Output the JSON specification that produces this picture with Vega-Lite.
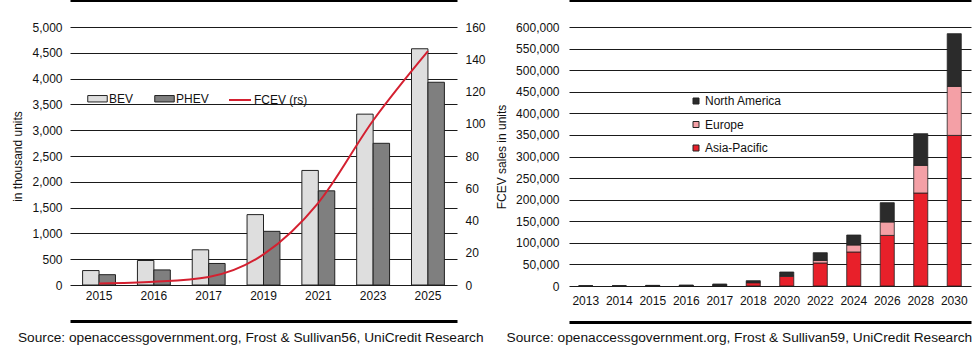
{
  "$schema": "https://vega.github.io/schema/vega-lite/v6.json",
  "background": "white",
  "padding": {"left": 11, "top": 0, "right": 7, "bottom": 0},
  "autosize": {"type": "pad"},
  "spacing": 9,
  "resolve": {"scale": {"fill": "independent"}, "legend": {"fill": "independent"}},
  "config": {
    "font": "Liberation Sans",
    "view": {"stroke": null},
    "axis": {"labelFont": "Liberation Sans", "labelFontSize": 12, "labelColor": "#111", "titleFont": "Liberation Sans", "titleFontSize": 12, "titleFontWeight": "normal", "titleColor": "#111", "gridColor": "#1a1a1a", "gridWidth": 1, "gridOpacity": 1, "labelOverlap": false},
    "legend": {"labelFont": "Liberation Sans", "labelFontSize": 12, "labelColor": "#111", "padding": 0},
    "title": {"font": "Liberation Sans", "fontSize": 13.7, "fontWeight": "normal", "color": "#111"}
  },
  "datasets": {
    "ev": [
      {"year": "2015", "series": "BEV", "value": 280},
      {"year": "2016", "series": "BEV", "value": 475},
      {"year": "2017", "series": "BEV", "value": 682},
      {"year": "2019", "series": "BEV", "value": 1364},
      {"year": "2021", "series": "BEV", "value": 2220},
      {"year": "2023", "series": "BEV", "value": 3311},
      {"year": "2025", "series": "BEV", "value": 4578},
      {"year": "2015", "series": "PHEV", "value": 200},
      {"year": "2016", "series": "PHEV", "value": 292},
      {"year": "2017", "series": "PHEV", "value": 417},
      {"year": "2019", "series": "PHEV", "value": 1040},
      {"year": "2021", "series": "PHEV", "value": 1825},
      {"year": "2023", "series": "PHEV", "value": 2746},
      {"year": "2025", "series": "PHEV", "value": 3929},
      {"year": "2015", "series": "FCEV (rs)", "value": 1},
      {"year": "2016", "series": "FCEV (rs)", "value": 2},
      {"year": "2017", "series": "FCEV (rs)", "value": 5},
      {"year": "2019", "series": "FCEV (rs)", "value": 19},
      {"year": "2021", "series": "FCEV (rs)", "value": 51},
      {"year": "2023", "series": "FCEV (rs)", "value": 102},
      {"year": "2025", "series": "FCEV (rs)", "value": 145}
    ],
    "fcev": [
      {"year": "2013", "region": "Asia-Pacific", "ord": 1, "value": 0},
      {"year": "2013", "region": "Europe", "ord": 2, "value": 0},
      {"year": "2013", "region": "North America", "ord": 3, "value": 0},
      {"year": "2014", "region": "Asia-Pacific", "ord": 1, "value": 0},
      {"year": "2014", "region": "Europe", "ord": 2, "value": 0},
      {"year": "2014", "region": "North America", "ord": 3, "value": 0},
      {"year": "2015", "region": "Asia-Pacific", "ord": 1, "value": 600},
      {"year": "2015", "region": "Europe", "ord": 2, "value": 200},
      {"year": "2015", "region": "North America", "ord": 3, "value": 700},
      {"year": "2016", "region": "Asia-Pacific", "ord": 1, "value": 900},
      {"year": "2016", "region": "Europe", "ord": 2, "value": 300},
      {"year": "2016", "region": "North America", "ord": 3, "value": 1000},
      {"year": "2017", "region": "Asia-Pacific", "ord": 1, "value": 1200},
      {"year": "2017", "region": "Europe", "ord": 2, "value": 400},
      {"year": "2017", "region": "North America", "ord": 3, "value": 3000},
      {"year": "2018", "region": "Asia-Pacific", "ord": 1, "value": 7600},
      {"year": "2018", "region": "Europe", "ord": 2, "value": 1000},
      {"year": "2018", "region": "North America", "ord": 3, "value": 3700},
      {"year": "2020", "region": "Asia-Pacific", "ord": 1, "value": 22000},
      {"year": "2020", "region": "Europe", "ord": 2, "value": 2000},
      {"year": "2020", "region": "North America", "ord": 3, "value": 8400},
      {"year": "2022", "region": "Asia-Pacific", "ord": 1, "value": 53300},
      {"year": "2022", "region": "Europe", "ord": 2, "value": 6000},
      {"year": "2022", "region": "North America", "ord": 3, "value": 17800},
      {"year": "2024", "region": "Asia-Pacific", "ord": 1, "value": 78800},
      {"year": "2024", "region": "Europe", "ord": 2, "value": 16200},
      {"year": "2024", "region": "North America", "ord": 3, "value": 23100},
      {"year": "2026", "region": "Asia-Pacific", "ord": 1, "value": 117200},
      {"year": "2026", "region": "Europe", "ord": 2, "value": 31100},
      {"year": "2026", "region": "North America", "ord": 3, "value": 44700},
      {"year": "2028", "region": "Asia-Pacific", "ord": 1, "value": 215400},
      {"year": "2028", "region": "Europe", "ord": 2, "value": 64000},
      {"year": "2028", "region": "North America", "ord": 3, "value": 73400},
      {"year": "2030", "region": "Asia-Pacific", "ord": 1, "value": 348900},
      {"year": "2030", "region": "Europe", "ord": 2, "value": 113500},
      {"year": "2030", "region": "North America", "ord": 3, "value": 122100}
    ]
  },
  "hconcat": [
    {
      "width": 387,
      "height": 258,
      "title": {"text": "Source: openaccessgovernment.org, Frost & Sullivan56, UniCredit Research", "orient": "bottom", "anchor": "start", "offset": 10, "dx": 6},
      "data": {"name": "ev"},
      "layer": [
        {
          "transform": [{"filter": "datum.series !== 'FCEV (rs)'"}],
          "mark": {"type": "bar", "stroke": "#222", "strokeWidth": 1},
          "encoding": {
            "x": {"field": "year", "type": "nominal", "scale": {"paddingInner": 0.4, "paddingOuter": 0.23},
              "axis": {"orient": "bottom", "title": null, "ticks": false, "labelAngle": 0, "domain": false, "offset": 35, "labelPadding": -30, "grid": false}},
            "xOffset": {"field": "series", "type": "nominal", "scale": {"domain": ["BEV", "PHEV"], "paddingInner": 0, "paddingOuter": 0}},
            "y": {"field": "value", "type": "quantitative", "scale": {"domain": [0, 5000], "nice": false},
              "axis": {"title": "in thousand units", "values": [0, 500, 1000, 1500, 2000, 2500, 3000, 3500, 4000, 4500, 5000], "format": ",.0f", "domain": false, "ticks": false, "labelPadding": 8, "titlePadding": 7, "grid": true}},
            "fill": {"field": "series", "type": "nominal", "scale": {"domain": ["BEV", "PHEV"], "range": ["#dedede", "#7f7f7f"]},
              "legend": {"title": null, "orient": "none", "legendX": 17, "legendY": 61, "direction": "horizontal", "symbolType": "M-1,-0.33H1V0.33H-1Z", "symbolSize": 380, "symbolStrokeColor": "#222", "symbolStrokeWidth": 1, "labelOffset": 1, "columnPadding": 18}}
          }
        },
        {
          "transform": [{"filter": "datum.series === 'FCEV (rs)'"}],
          "mark": {"type": "line", "strokeWidth": 2, "interpolate": "monotone"},
          "encoding": {
            "x": {"field": "year", "type": "nominal",
              "axis": {"orient": "top", "title": null, "labels": false, "ticks": false, "domain": true, "domainColor": "black", "domainWidth": 3, "offset": 27, "grid": false}},
            "y": {"field": "value", "type": "quantitative", "scale": {"domain": [0, 160], "nice": false},
              "axis": {"orient": "right", "title": null, "values": [0, 20, 40, 60, 80, 100, 120, 140, 160], "domain": false, "ticks": false, "labelPadding": 8, "grid": false}},
            "stroke": {"field": "series", "type": "nominal", "scale": {"range": ["#d42030"]},
              "legend": {"title": null, "orient": "none", "legendX": 158, "legendY": 61, "symbolType": "stroke", "symbolSize": 484, "symbolStrokeWidth": 2, "labelOffset": 2}}
          }
        },
        {
          "transform": [{"filter": "datum.value < 0"}],
          "mark": {"type": "bar"},
          "encoding": {
            "x": {"field": "year", "type": "nominal",
              "axis": {"orient": "bottom", "title": null, "labels": false, "ticks": false, "domain": true, "domainColor": "black", "domainOpacity": 1, "domainWidth": 3, "offset": 36, "grid": false}}
          }
        }
      ],
      "resolve": {"scale": {"y": "independent"}, "axis": {"x": "independent"}}
    },
    {
      "width": 402,
      "height": 259,
      "title": {"text": "Source: openaccessgovernment.org, Frost & Sullivan59, UniCredit Research", "orient": "bottom", "anchor": "start", "offset": 9, "dx": 11},
      "data": {"name": "fcev"},
      "layer": [
        {
          "mark": {"type": "bar", "stroke": "#222", "strokeWidth": 0.8},
          "encoding": {
            "x": {"field": "year", "type": "nominal", "scale": {"paddingInner": 0.58, "paddingOuter": 0.29},
              "axis": {"orient": "bottom", "title": null, "ticks": false, "labelAngle": 0, "domain": true, "domainColor": "black", "domainOpacity": 1, "domainWidth": 3, "offset": 36, "labelPadding": -27, "grid": false}},
            "y": {"field": "value", "type": "quantitative", "stack": "zero", "scale": {"domain": [0, 600000], "nice": false},
              "axis": {"title": "FCEV sales in units", "values": [0, 50000, 100000, 150000, 200000, 250000, 300000, 350000, 400000, 450000, 500000, 550000, 600000], "format": ",.0f", "domain": false, "ticks": false, "labelPadding": 10, "titlePadding": 7, "grid": true}},
            "fill": {"field": "region", "type": "nominal", "scale": {"domain": ["North America", "Europe", "Asia-Pacific"], "range": ["#2b2b2b", "#f4a0a6", "#e8202a"]},
              "legend": {"title": null, "orient": "none", "legendX": 121, "legendY": 68, "direction": "vertical", "symbolType": "square", "symbolSize": 36, "symbolStrokeColor": "#222", "symbolStrokeWidth": 1, "labelOffset": 3, "rowPadding": 11.5}},
            "order": {"field": "ord", "type": "quantitative"}
          }
        },
        {
          "transform": [{"filter": "datum.value < 0"}],
          "mark": {"type": "bar"},
          "encoding": {
            "x": {"field": "year", "type": "nominal",
              "axis": {"orient": "top", "title": null, "labels": false, "ticks": false, "domain": true, "domainColor": "black", "domainWidth": 3, "offset": 27, "grid": false}}
          }
        }
      ],
      "resolve": {"axis": {"x": "independent"}}
    }
  ]
}
